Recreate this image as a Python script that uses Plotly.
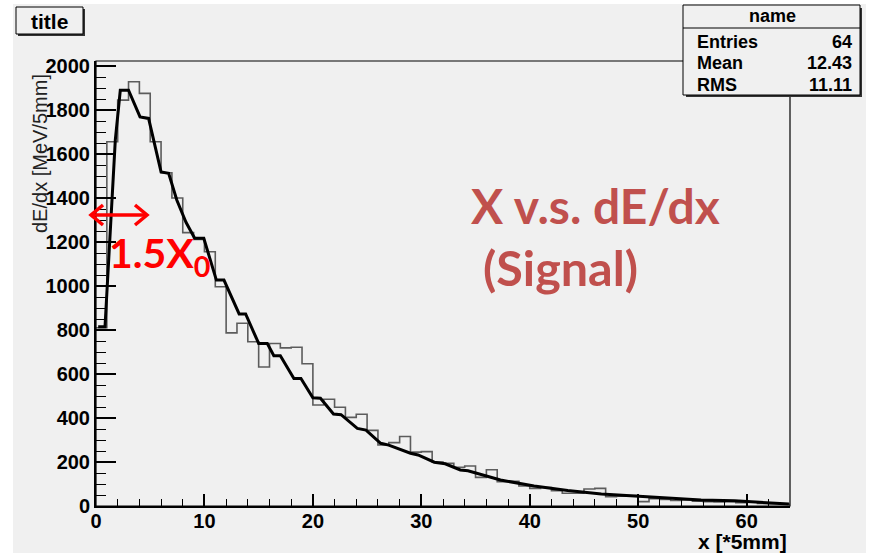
import plotly.graph_objects as go
import numpy as np

# ---------------- data ----------------
# gray histogram: 64 bins of width 1, x from 0 to 64
hist_values = [810, 1656, 1845, 1929, 1876, 1656, 1515, 1400, 1243, 1212,
               1156, 997, 787, 831, 747, 632, 739, 719, 722, 647,
               459, 485, 449, 403, 417, 344, 277, 288, 316, 245,
               247, 200, 194, 176, 182, 130, 165, 110, 112, 91,
               80, 84, 70, 58, 58, 77, 80, 42, 45, 48,
               20, 33, 30, 25, 28, 22, 20, 18, 20, 15,
               18, 12, 10, 8]
# black averaged curve
curve_x = [0.2, 0.83, 1.78, 2.24, 3.0, 4.06, 4.85, 6.0, 6.7, 7.45,
           8.3, 9.1, 9.94, 11.1, 11.8, 13.2, 13.8, 15.0, 15.8, 16.4,
           17.0, 18.25, 18.9, 20.0, 20.7, 21.9, 22.6, 24.1, 24.9, 26.25,
           27.0, 29.0, 29.7, 31.2, 32.2, 33.6, 34.3, 37.3, 40.4, 43.5,
           46.6, 49.6, 52.7, 55.8, 58.9, 62.0, 63.9]
curve_y = [815, 815, 1663, 1890, 1890, 1769, 1762, 1519, 1512, 1391,
           1290, 1217, 1217, 1027, 1027, 873, 873, 739, 739, 683,
           683, 580, 580, 492, 490, 418, 415, 353, 345, 285,
           277, 240, 232, 199, 192, 164, 160, 118, 91, 70,
           55, 45, 35, 27, 24, 15, 9]
stats_labels = ["Entries", "Mean", "RMS"]
stats_values = ["64", "12.43", "11.11"]
x_range = [0, 64]
y_range = [0, 2023]

# ---------------- layout helpers (pixel -> paper) ----------------
FW, FH = 876, 553
L, R, T, B = 96, 86, 61, 47
W = FW - L - R
H = FH - T - B


def fx(p):
    return (p - L) / W


def fy(p):
    return (FH - B - p) / H


BG = "#f0f0f0"
FONT = "Liberation Sans"

edges = np.arange(len(hist_values) + 1)
step_y = hist_values + [hist_values[-1]]

fig = go.Figure()
fig.add_trace(go.Scatter(x=edges, y=step_y, mode="lines", line_shape="hv",
                         line=dict(color="#5c5c5c", width=1.6),
                         hoverinfo="skip", showlegend=False))
fig.add_trace(go.Scatter(x=curve_x, y=curve_y, mode="lines",
                         line=dict(color="black", width=3),
                         hoverinfo="skip", showlegend=False))

shapes = []
# canvas
shapes.append(dict(type="rect", xref="paper", yref="paper", layer="below",
                   x0=fx(13), x1=fx(866), y0=fy(4), y1=fy(553),
                   fillcolor=BG, line=dict(width=0)))
# frame
shapes.append(dict(type="rect", xref="paper", yref="paper",
                   x0=0, x1=1, y0=0, y1=1, line=dict(color="black", width=1.2)))
# title box
shapes.append(dict(type="rect", xref="paper", yref="paper",
                   x0=fx(18), x1=fx(85), y0=fy(36), y1=fy(9),
                   fillcolor="#333", line=dict(width=0)))
shapes.append(dict(type="rect", xref="paper", yref="paper",
                   x0=fx(16), x1=fx(83), y0=fy(34), y1=fy(7),
                   fillcolor=BG, line=dict(color="black", width=1)))
# stats box
shapes.append(dict(type="rect", xref="paper", yref="paper",
                   x0=fx(686), x1=fx(862), y0=fy(97), y1=fy(8),
                   fillcolor="#333", line=dict(width=0)))
shapes.append(dict(type="rect", xref="paper", yref="paper",
                   x0=fx(683), x1=fx(860), y0=fy(95), y1=fy(5),
                   fillcolor=BG, line=dict(color="black", width=1)))
shapes.append(dict(type="line", xref="paper", yref="paper",
                   x0=fx(683), x1=fx(860), y0=fy(28), y1=fy(28),
                   line=dict(color="black", width=1)))
# red double arrow
ay = 215
red = dict(color="#ff0000", width=3.5)
shapes.append(dict(type="line", xref="paper", yref="paper",
                   x0=fx(91), x1=fx(147), y0=fy(ay), y1=fy(ay), line=red))
for tip, arm in ((91, 103), (147, 135)):
    shapes.append(dict(type="path", xref="paper", yref="paper", line=red,
                       path=f"M {fx(arm)},{fy(ay-10)} L {fx(tip)},{fy(ay)} L {fx(arm)},{fy(ay+10)}"))

ann = []


def text(x, y, s, size, xanchor="center", yanchor="middle", color="black",
         family=FONT, weight="bold", angle=0):
    ann.append(dict(x=fx(x), y=fy(y), xref="paper", yref="paper", text=s,
                    showarrow=False, xanchor=xanchor, yanchor=yanchor,
                    textangle=angle,
                    font=dict(family=family, size=size, color=color, weight=weight)))


text(49.5, 21, "title", 21)
text(772, 16.5, "name", 18)
for i, (lab, val) in enumerate(zip(stats_labels, stats_values)):
    yy = [41.5, 63, 84.5][i]
    text(695, yy, lab, 18, xanchor="left")
    text(854, yy, val, 18, xanchor="right")
text(40, 154, "dE/dx [MeV/5mm]", 20, weight="normal", color="#222", angle=-90)
text(789, 541, "x [*5mm]", 21, xanchor="right")
text(107, 256, "1.5X<sub>0</sub>", 41, xanchor="left", color="#ff0000", family="Lato")
text(469, 205, "X v.s. dE/dx", 48, xanchor="left", color="#c0504d", family="Lato")
text(481, 267, "(Signal)", 48.5, xanchor="left", color="#c0504d", family="Lato")

fig.update_layout(
    width=FW, height=FH,
    margin=dict(l=L, r=R, t=T, b=B, pad=0),
    paper_bgcolor="white", plot_bgcolor=BG,
    shapes=shapes, annotations=ann, showlegend=False,
    xaxis=dict(range=x_range, dtick=10, tick0=0, ticks="inside", ticklen=12,
               tickwidth=1.5, tickcolor="black", showgrid=False, zeroline=False,
               showline=True, linecolor="black", linewidth=2, automargin=False,
               ticklabelstandoff=-4,
               tickfont=dict(family=FONT, size=20, color="black", weight="bold"),
               minor=dict(dtick=2, ticks="inside", ticklen=7, tickcolor="black", tickwidth=1.2)),
    yaxis=dict(range=y_range, dtick=200, tick0=0, ticks="inside", ticklen=20,
               tickwidth=1.5, tickcolor="black", showgrid=False, zeroline=False,
               showline=True, linecolor="black", linewidth=2, automargin=False,
               tickfont=dict(family=FONT, size=20, color="black", weight="bold"),
               minor=dict(dtick=50, ticks="inside", ticklen=10, tickcolor="black", tickwidth=1.2)),
)

fig.write_html("out.html", config={"displayModeBar": False},
               post_script="document.body.style.margin='0';document.body.style.padding='0';"
                           "document.body.style.overflow='hidden';")
